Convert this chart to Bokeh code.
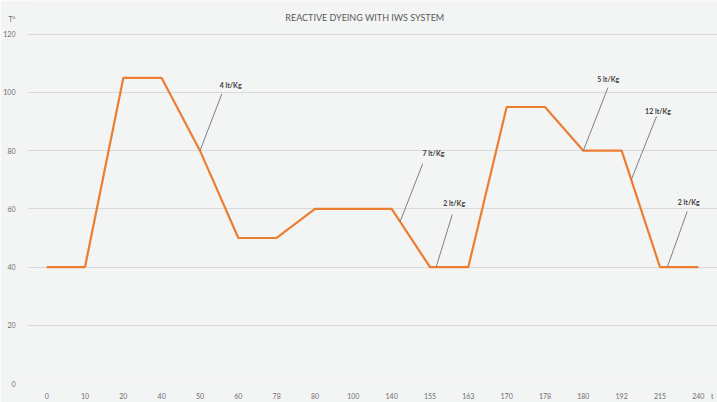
from bokeh.plotting import figure
from bokeh.models import Range1d, FixedTicker, Label, ColumnDataSource
from bokeh.embed import file_html
from bokeh.resources import INLINE

# Data
time_labels = ["0", "10", "20", "40", "50", "60", "78", "80", "100", "140",
               "155", "163", "170", "178", "180", "192", "215", "240"]
temperature = [40, 40, 105, 105, 80, 50, 50, 60, 60, 60,
               40, 40, 95, 95, 80, 80, 40, 40]
y_ticks = [0, 20, 40, 60, 80, 100, 120]

ann_text = ["4 lt/Kg", "7 lt/Kg", "2 lt/Kg", "5 lt/Kg", "12 lt/Kg", "2 lt/Kg"]
# anchor on the curve (category index, value)
ann_x0 = [4.0, 9.22, 10.16, 14.0, 15.25, 16.19]
ann_y0 = [80, 55.6, 40, 80, 70, 40]
# leader end
ann_x1 = [4.57, 9.81, 10.58, 14.64, 15.91, 16.71]
ann_y1 = [99.5, 75.5, 58.0, 101.6, 91.8, 59.1]
# text centre
ann_tx = [4.80, 10.09, 10.63, 14.65, 15.95, 16.75]
ann_ty = [102.7, 79.3, 62.1, 104.6, 93.6, 62.3]

TITLE = "REACTIVE DYEING WITH IWS SYSTEM"
Y_NAME, Y_NAME_POS = "T°", 125.2
X_NAME, X_NAME_POS = "t", 17.36

FONT = "Lato"
BG = "#f3f4f4"

xs = list(range(len(time_labels)))

p = figure(width=717, height=402, output_backend="svg", toolbar_location=None,
           x_range=Range1d(-0.5, len(time_labels) - 0.5), y_range=Range1d(0, 131.6),
           min_border_left=26, min_border_right=0, min_border_top=0, min_border_bottom=18)

p.background_fill_color = BG
p.border_fill_color = BG
p.outline_line_color = None

p.xgrid.grid_line_color = None
p.ygrid.ticker = FixedTicker(ticks=y_ticks)
p.ygrid.grid_line_color = "#d9d9d9"
p.ygrid.grid_line_width = 1

p.yaxis.ticker = FixedTicker(ticks=y_ticks + [Y_NAME_POS])
p.yaxis.major_label_overrides = {Y_NAME_POS: Y_NAME}
p.xaxis.ticker = FixedTicker(ticks=xs + [X_NAME_POS])
overrides = {i: lab for i, lab in enumerate(time_labels)}
overrides[X_NAME_POS] = X_NAME
p.xaxis.major_label_overrides = overrides

for ax in (p.xaxis[0], p.yaxis[0]):
    ax.axis_line_color = None
    ax.major_tick_line_color = None
    ax.minor_tick_line_color = None
    ax.major_label_text_font = FONT
    ax.major_label_text_font_size = "7px"
    ax.major_label_text_color = "#6e6e6e"
p.yaxis.major_label_standoff = 6
p.xaxis.major_label_standoff = 2

p.line(xs, temperature, line_color="#ED7D31", line_width=2.2)

src = ColumnDataSource(dict(x0=ann_x0, y0=ann_y0, x1=ann_x1, y1=ann_y1))
p.segment("x0", "y0", "x1", "y1", source=src, line_color="#7f7f7f", line_width=1)

for t, tx, ty in zip(ann_text, ann_tx, ann_ty):
    p.add_layout(Label(x=tx, y=ty, text=t, text_align="center", text_baseline="middle",
                       text_font=FONT, text_font_size="7px", text_font_style="bold",
                       text_color="#404040"))

p.add_layout(Label(x=8.30, y=125.9, text=TITLE, text_align="center", text_baseline="middle",
                   text_font=FONT, text_font_size="9px", text_color="#595959"))

open("out.html", "w").write(file_html(p, INLINE))
